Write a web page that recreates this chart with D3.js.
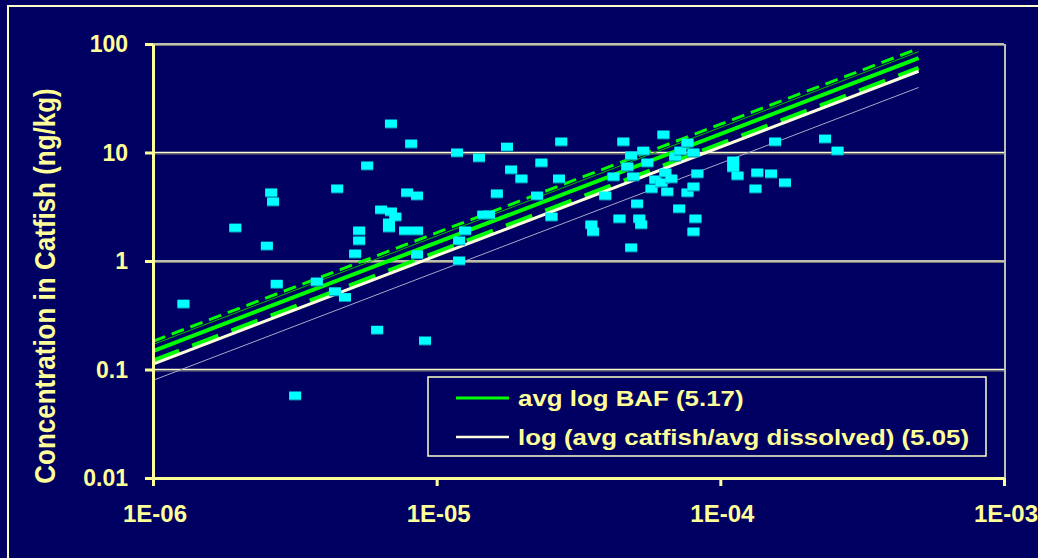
<!DOCTYPE html>
<html>
<head>
<meta charset="utf-8">
<script src="https://cdn.jsdelivr.net/npm/d3@7"></script>
<style>
  html, body { margin: 0; padding: 0; background: #000062; }
  svg { display: block; }
  text { font-family: "Liberation Sans", Arial, sans-serif; font-weight: bold; fill: #FFFF99; }
</style>
</head>
<body>
<div id="chart"></div>
<script>
// dissolved concentration (x) and catfish concentration in ng/kg (y)
var dissolved = [1.28e-6, 1.95e-6, 2.52e-6, 2.61e-6, 2.65e-6, 2.73e-6, 3.17e-6, 3.78e-6, 4.38e-6, 4.75e-6,
    4.46e-6, 5.16e-6, 5.33e-6, 5.33e-6, 5.69e-6, 6.17e-6, 6.37e-6, 6.90e-6, 6.90e-6, 7.15e-6,
    6.79e-6, 6.79e-6, 7.74e-6, 8.53e-6, 7.87e-6, 8.53e-6, 8.13e-6, 8.53e-6, 9.10e-6, 1.18e-5,
    1.20e-5, 1.20e-5, 1.26e-5, 1.41e-5, 1.46e-5, 1.53e-5, 1.63e-5, 1.77e-5, 1.83e-5, 1.99e-5,
    2.26e-5, 2.34e-5, 2.54e-5, 2.70e-5, 2.75e-5, 3.51e-5, 3.56e-5, 3.93e-5, 4.20e-5, 4.41e-5,
    4.55e-5, 4.70e-5, 4.85e-5, 4.93e-5, 4.85e-5, 5.09e-5, 5.18e-5, 5.26e-5, 5.35e-5, 5.53e-5,
    5.72e-5, 5.90e-5, 6.30e-5, 6.40e-5, 6.20e-5, 6.72e-5, 6.50e-5, 6.93e-5, 7.23e-5, 7.66e-5,
    8.04e-5, 7.16e-5, 7.66e-5, 8.04e-5, 8.30e-5, 8.17e-5, 8.04e-5, 1.11e-4, 1.11e-4, 1.15e-4,
    1.33e-4, 1.35e-4, 1.51e-4, 1.56e-4, 1.69e-4, 2.34e-4, 2.59e-4];
var catfish = [0.40, 2.01, 1.37, 4.24, 3.50, 0.61, 0.057, 0.64, 0.52, 0.46,
    4.61, 1.16, 1.89, 1.53, 7.51, 0.23, 2.95, 18.3, 2.83, 2.54,
    2.24, 2.01, 1.89, 1.89, 4.24, 3.97, 11.97, 1.14, 0.183, 9.9,
    1.53, 1.0, 1.89, 8.9, 2.65, 2.65, 4.15, 11.2, 6.9, 5.70,
    3.97, 8.0, 2.54, 5.70, 12.5, 2.15, 1.85, 3.97, 5.95, 2.44,
    12.5, 7.35, 9.3, 5.95, 1.32, 3.35, 2.44, 2.15, 10.3, 8.0,
    4.61, 5.58, 14.5, 6.47, 5.24, 5.70, 4.32, 9.1, 10.3, 12.2,
    9.9, 3.02, 4.24, 4.81, 6.34, 2.44, 1.85, 8.35, 7.2, 6.07,
    4.61, 6.47, 6.34, 12.5, 5.24, 13.3, 10.3];

// BAF lines: y = 10^logBAF * x
var lineLogBAF = [5.26, 5.23, 5.17, 5.08, 5.05, 4.90];
var lineRange = [1e-6, 5e-4];
var legendLabels = ["avg log BAF (5.17)", "log (avg catfish/avg dissolved) (5.05)"];

var xTicks = [1e-6, 1e-5, 1e-4, 1e-3];
var xTickLabels = ["1E-06", "1E-05", "1E-04", "1E-03"];
var yTicks = [0.01, 0.1, 1, 10, 100];
var yTickLabels = ["0.01", "0.1", "1", "10", "100"];

var w = 1038, h = 558;
var plot = {left: 153, top: 44, right: 1004, bottom: 478};

// styles for each BAF line, same order as lineLogBAF
var lineStyles = [
    {stroke: "#00FF00", width: 3, dash: "13,7"},
    {stroke: "#00C000", width: 1, dash: null},
    {stroke: "#00FF00", width: 4, dash: null},
    {stroke: "#00FF00", width: 4.5, dash: "28,14"},
    {stroke: "#FFFFE0", width: 3, dash: null},
    {stroke: "#A8A8C8", width: 1, dash: null}
];

var svg = d3.select("#chart").append("svg")
    .attr("width", w)
    .attr("height", h);

// outer frame
svg.append("rect")
    .attr("x", 8).attr("y", 6)
    .attr("width", w + 20).attr("height", h + 20)
    .attr("fill", "none")
    .attr("stroke", "#FFFFCC")
    .attr("stroke-width", 2);

var xScale = d3.scaleLog()
    .domain([1e-6, 1e-3])
    .range([plot.left, plot.right]);

var yScale = d3.scaleLog()
    .domain([0.01, 100])
    .range([plot.bottom, plot.top]);

// grid lines (with faint shadow below)
var grid = svg.append("g");
grid.selectAll("line.shadow").data(yTicks.slice(1)).enter()
    .append("line")
    .attr("class", "shadow")
    .attr("x1", plot.left).attr("x2", plot.right)
    .attr("y1", function(d) { return yScale(d) + 1.5; })
    .attr("y2", function(d) { return yScale(d) + 1.5; })
    .attr("stroke", "#7a7a70")
    .attr("stroke-width", 1);
grid.selectAll("line.main").data(yTicks.slice(1)).enter()
    .append("line")
    .attr("class", "main")
    .attr("x1", plot.left).attr("x2", plot.right)
    .attr("y1", function(d) { return yScale(d); })
    .attr("y2", function(d) { return yScale(d); })
    .attr("stroke", "#FFFFCC")
    .attr("stroke-width", 1.5);

// right border of plot
svg.append("line")
    .attr("x1", plot.right + 1).attr("x2", plot.right + 1)
    .attr("y1", plot.top).attr("y2", plot.bottom)
    .attr("stroke", "#FFFFCC")
    .attr("stroke-width", 1.5);

// BAF lines
var lineGen = d3.line()
    .x(function(d) { return xScale(d[0]); })
    .y(function(d) { return yScale(d[1]); });

svg.append("g").selectAll("path").data(lineLogBAF).enter()
    .append("path")
    .attr("d", function(b) {
        return lineGen(lineRange.map(function(x) { return [x, Math.pow(10, b) * x]; }));
    })
    .attr("fill", "none")
    .attr("stroke", function(b, i) { return lineStyles[i].stroke; })
    .attr("stroke-width", function(b, i) { return lineStyles[i].width; })
    .attr("stroke-dasharray", function(b, i) { return lineStyles[i].dash; });

// axes
var xAxis = d3.axisBottom(xScale).tickValues(xTicks).tickFormat("").tickSize(8).tickSizeOuter(0);
var yAxis = d3.axisLeft(yScale).tickValues(yTicks).tickFormat("").tickSize(8).tickSizeOuter(0);

var xAxisGroup = svg.append("g")
    .attr("transform", "translate(" + [0, plot.bottom] + ")")
    .call(xAxis);
var yAxisGroup = svg.append("g")
    .attr("transform", "translate(" + [plot.left, 0] + ")")
    .call(yAxis);

[xAxisGroup, yAxisGroup].forEach(function(g) {
    g.select(".domain").attr("stroke", "#FFFF99").attr("stroke-width", 3);
    g.selectAll(".tick line").attr("stroke", "#FFFF99").attr("stroke-width", 3);
});

// tick labels
svg.append("g").selectAll("text").data(yTicks).enter()
    .append("text")
    .attr("x", 128)
    .attr("y", function(d) { return yScale(d) + 8; })
    .attr("text-anchor", "end")
    .style("font-size", "23px")
    .text(function(d, i) { return yTickLabels[i]; });

svg.append("g").selectAll("text").data(xTicks).enter()
    .append("text")
    .attr("x", function(d) { return xScale(d) + 2; })
    .attr("y", 522)
    .attr("text-anchor", "middle")
    .style("font-size", "24px")
    .text(function(d, i) { return xTickLabels[i]; });

// y axis title
svg.append("text")
    .attr("transform", "translate(55,286) scale(1.15,1) rotate(-90)")
    .attr("text-anchor", "middle")
    .style("font-size", "26px")
    .text("Concentration in Catfish (ng/kg)");

// data points
var pts = svg.append("g").selectAll("g").data(dissolved).enter()
    .append("g")
    .attr("transform", function(d, i) {
        return "translate(" + [xScale(d), yScale(catfish[i])] + ")";
    });
pts.append("rect")
    .attr("x", -6).attr("y", -3.5)
    .attr("width", 12).attr("height", 8)
    .attr("fill", "#0088A8");
pts.append("rect")
    .attr("x", -6).attr("y", -4.5)
    .attr("width", 12).attr("height", 8)
    .attr("fill", "#00FFFF");

// legend
var legend = svg.append("g").attr("transform", "translate(428,377)");
legend.append("rect")
    .attr("width", 558).attr("height", 79)
    .attr("fill", "#000062")
    .attr("stroke", "#FFFFCC")
    .attr("stroke-width", 1.5);

var legendStyle = [lineStyles[2], lineStyles[4]];
var items = legend.selectAll("g.item").data(legendLabels).enter()
    .append("g")
    .attr("class", "item")
    .attr("transform", function(d, i) { return "translate(0," + (21 + i * 39) + ")"; });
items.append("line")
    .attr("x1", 28).attr("x2", 81)
    .attr("stroke", function(d, i) { return legendStyle[i].stroke; })
    .attr("stroke-width", function(d, i) { return i === 0 ? 3 : 2.5; });
items.append("text")
    .attr("transform", "translate(90,8) scale(1.175,1)")
    .style("font-size", "22px")
    .text(function(d) { return d; });
</script>
</body>
</html>
